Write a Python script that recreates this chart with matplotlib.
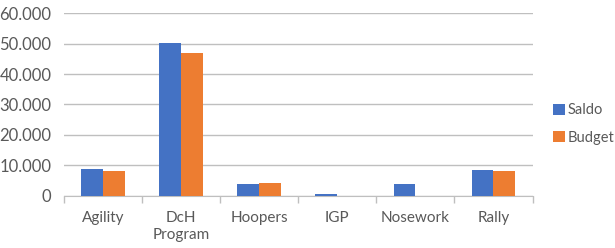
import numpy as np
import matplotlib.pyplot as plt
from matplotlib.ticker import FuncFormatter

plt.rcParams['font.family'] = ['Lato', 'DejaVu Sans']

categories = ['Agility', 'DcH\nProgram', 'Hoopers', 'IGP', 'Nosework', 'Rally']
saldo = [8600, 50300, 3800, 500, 3700, 8400]
budget = [8000, 47000, 4000, 0, 0, 8000]

blue = '#4472C4'
orange = '#ED7D31'
text_col = '#595959'
grid_col = '#BFBFBF'

fig = plt.figure(figsize=(6.15, 2.48), dpi=100)
ax = fig.add_axes([64 / 615, 1 - 195.5 / 248, (532.5 - 64) / 615, (195.5 - 13.3) / 248])

x = np.arange(len(categories))
w = 0.28
ax.bar(x - w / 2, saldo, w, color=blue, label='Saldo', zorder=3)
ax.bar(x + w / 2, budget, w, color=orange, label='Budget', zorder=3)

ax.set_xlim(-0.5, len(categories) - 0.5)
ax.set_ylim(0, 60000)
ax.set_yticks(np.arange(0, 60001, 10000))
ax.yaxis.set_major_formatter(FuncFormatter(lambda v, p: f'{int(v):,}'.replace(',', '.')))
ax.grid(axis='y', color=grid_col, linewidth=1, zorder=0)

ax.set_xticks(x)
ax.set_xticklabels(categories, linespacing=1.3)
ax.set_xticks(np.arange(-0.5, len(categories), 1), minor=True)
ax.tick_params(axis='x', which='major', length=0, pad=11, labelsize=11, colors=text_col)
ax.tick_params(axis='x', which='minor', length=5, color=grid_col, width=1)
ax.tick_params(axis='y', length=0, pad=9, labelsize=12, labelcolor=text_col)

for s in ['top', 'right', 'left']:
    ax.spines[s].set_visible(False)
ax.spines['bottom'].set_color(grid_col)

fig.legend(loc='center left', bbox_to_anchor=(553 / 615, 1 - 124 / 248), frameon=False,
           fontsize=10.5, labelcolor=text_col, handlelength=0.8, handleheight=0.8,
           handletextpad=0.2, labelspacing=0.9, borderpad=0, borderaxespad=0)

fig.savefig('out.png', dpi=100)
